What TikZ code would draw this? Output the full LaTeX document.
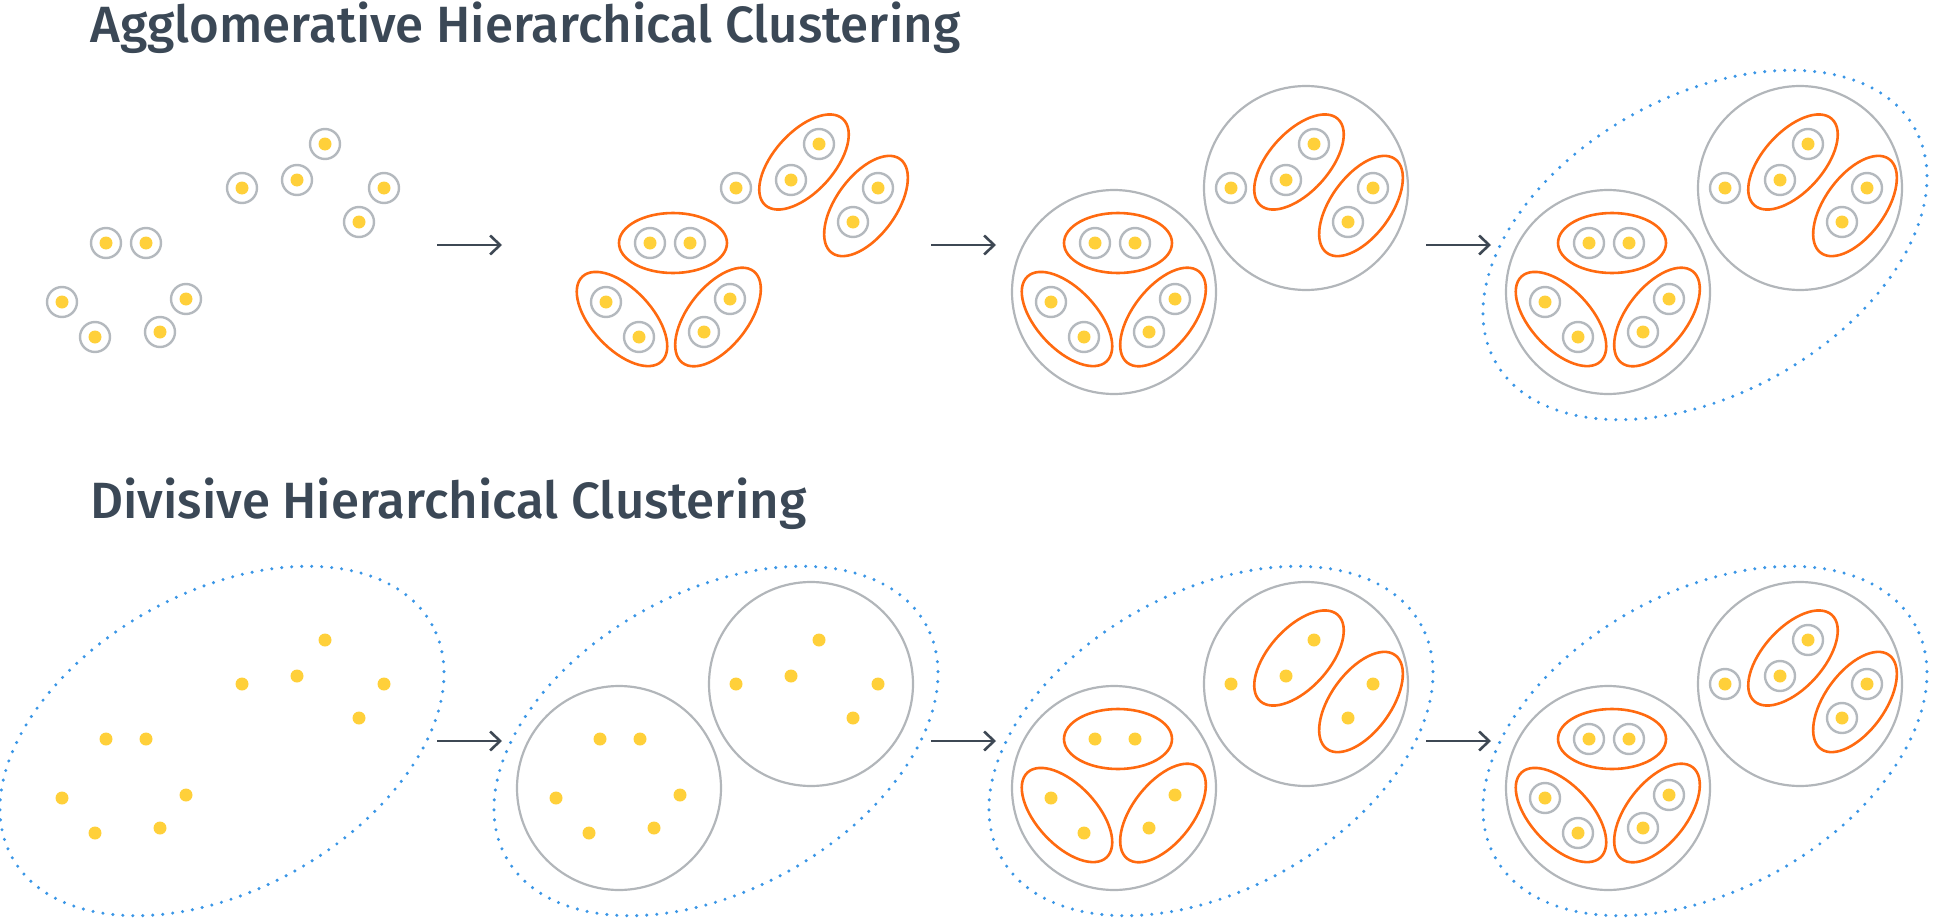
\documentclass[tikz,border=0pt]{standalone}
\usepackage{fontspec}
\setmainfont{Fira Sans}
\newfontfamily\titlefont{Fira Sans Medium}
\usepackage{xcolor}
\usepackage{tikz}
\usetikzlibrary{arrows.meta,shapes.geometric}
\definecolor{titleink}{HTML}{3B4856}
\definecolor{arrowink}{HTML}{3E4854}
\definecolor{ringgray}{HTML}{B4B9BE}
\definecolor{clustergray}{HTML}{B2B6BA}
\definecolor{pairorange}{HTML}{FF6A10}
\definecolor{seedyellow}{HTML}{FFD03A}
\definecolor{wholeblue}{HTML}{3A96E6}
% the eleven samples, split in the two far groups
\newcommand{\ptsA}[2]{%
  \foreach \n/\px/\py in {1/106/243,2/146/243,3/62/302,4/95/337,5/186/299,6/160/332}
    \node[#2] (#1a\n) at (\px,\py) {};}
\newcommand{\ptsB}[2]{%
  \foreach \n/\px/\py in {1/242/188,2/297/180,3/325/144,4/359/222,5/384/188}
    \node[#2] (#1b\n) at (\px,\py) {};}
\newcommand{\pairsA}[1]{%
  \node[pair,minimum width=54pt] (#1pa1) at (129,243) {};
  \node[pair,rotate=-47] (#1pa2) at (78,319) {};
  \node[pair,rotate=52] (#1pa3) at (174,317) {};}
\newcommand{\pairsB}[1]{%
  \node[pair,rotate=48] (#1pb1) at (310,162) {};
  \node[pair,rotate=54] (#1pb2) at (372,206) {};}
\newcommand{\clustersAB}[1]{%
  \node[cluster] (#1ca) at (125,292) {};
  \node[cluster] (#1cb) at (317,188) {};}

\begin{document}
\begin{tikzpicture}[x=0.5pt,y=-0.5pt,>={Straight Barb[length=5pt,width=9.5pt]},
    title/.style={inner sep=0pt,anchor=base west,text=titleink,
      font=\titlefont\fontsize{25.5}{30}\selectfont},
    sample/.style={circle,fill=seedyellow,inner sep=0pt,minimum size=6.5pt},
    ringed/.style={circle,draw=ringgray,line width=1.2pt,inner sep=0pt,minimum size=15pt,
      path picture={\fill[seedyellow] (path picture bounding box.center) circle (3.25pt);}},
    pair/.style={ellipse,draw=pairorange,line width=1.3pt,inner sep=0pt,
      minimum width=58pt,minimum height=30pt},
    cluster/.style={circle,draw=clustergray,line width=1.1pt,inner sep=0pt,minimum size=102pt},
    whole/.style={ellipse,draw=wholeblue,line width=1.7pt,line cap=round,
      dash pattern=on 0pt off 5pt,inner sep=0pt,minimum width=240pt,minimum height=149pt,
      rotate=29},
    flow/.style={->,line width=1.3pt,draw=arrowink}]
  \useasboundingbox (0,0) rectangle (1935,921);

  % agglomerative row
  \node[title] (aggtitle) at (90,42) {Agglomerative Hierarchical Clustering};
  \begin{scope}
    \ptsA{t1}{ringed}
    \ptsB{t1}{ringed}
    \coordinate (t1from) at (437,245);
    \coordinate (t1to) at (502,245);
    \draw[flow] (t1from) -- (t1to);
  \end{scope}
  \begin{scope}[shift={(544,0)}]
    \pairsA{t2}
    \ptsA{t2}{ringed}
  \end{scope}
  \begin{scope}[shift={(494,0)}]
    \pairsB{t2}
    \ptsB{t2}{ringed}
    \coordinate (t2from) at (437,245);
    \coordinate (t2to) at (502,245);
    \draw[flow] (t2from) -- (t2to);
  \end{scope}
  \begin{scope}[shift={(989,0)}]
    \clustersAB{t3}
    \pairsA{t3}
    \pairsB{t3}
    \ptsA{t3}{ringed}
    \ptsB{t3}{ringed}
    \coordinate (t3from) at (437,245);
    \coordinate (t3to) at (502,245);
    \draw[flow] (t3from) -- (t3to);
  \end{scope}
  \begin{scope}[shift={(1483,0)}]
    \node[whole] (t4all) at (222,245) {};
    \clustersAB{t4}
    \pairsA{t4}
    \pairsB{t4}
    \ptsA{t4}{ringed}
    \ptsB{t4}{ringed}
  \end{scope}

  % divisive row
  \node[title] (divtitle) at (90,518) {Divisive Hierarchical Clustering};
  \begin{scope}[shift={(0,496)}]
    \node[whole] (d1all) at (222,245) {};
    \ptsA{d1}{sample}
    \ptsB{d1}{sample}
    \coordinate (d1from) at (437,245);
    \coordinate (d1to) at (502,245);
    \draw[flow] (d1from) -- (d1to);
  \end{scope}
  \begin{scope}[shift={(494,496)}]
    \node[whole] (d2all) at (222,245) {};
    \clustersAB{d2}
    \ptsA{d2}{sample}
    \ptsB{d2}{sample}
    \coordinate (d2from) at (437,245);
    \coordinate (d2to) at (502,245);
    \draw[flow] (d2from) -- (d2to);
  \end{scope}
  \begin{scope}[shift={(989,496)}]
    \node[whole] (d3all) at (222,245) {};
    \clustersAB{d3}
    \pairsA{d3}
    \pairsB{d3}
    \ptsA{d3}{sample}
    \ptsB{d3}{sample}
    \coordinate (d3from) at (437,245);
    \coordinate (d3to) at (502,245);
    \draw[flow] (d3from) -- (d3to);
  \end{scope}
  \begin{scope}[shift={(1483,496)}]
    \node[whole] (d4all) at (222,245) {};
    \clustersAB{d4}
    \pairsA{d4}
    \pairsB{d4}
    \ptsA{d4}{ringed}
    \ptsB{d4}{ringed}
  \end{scope}
\end{tikzpicture}
\end{document}
